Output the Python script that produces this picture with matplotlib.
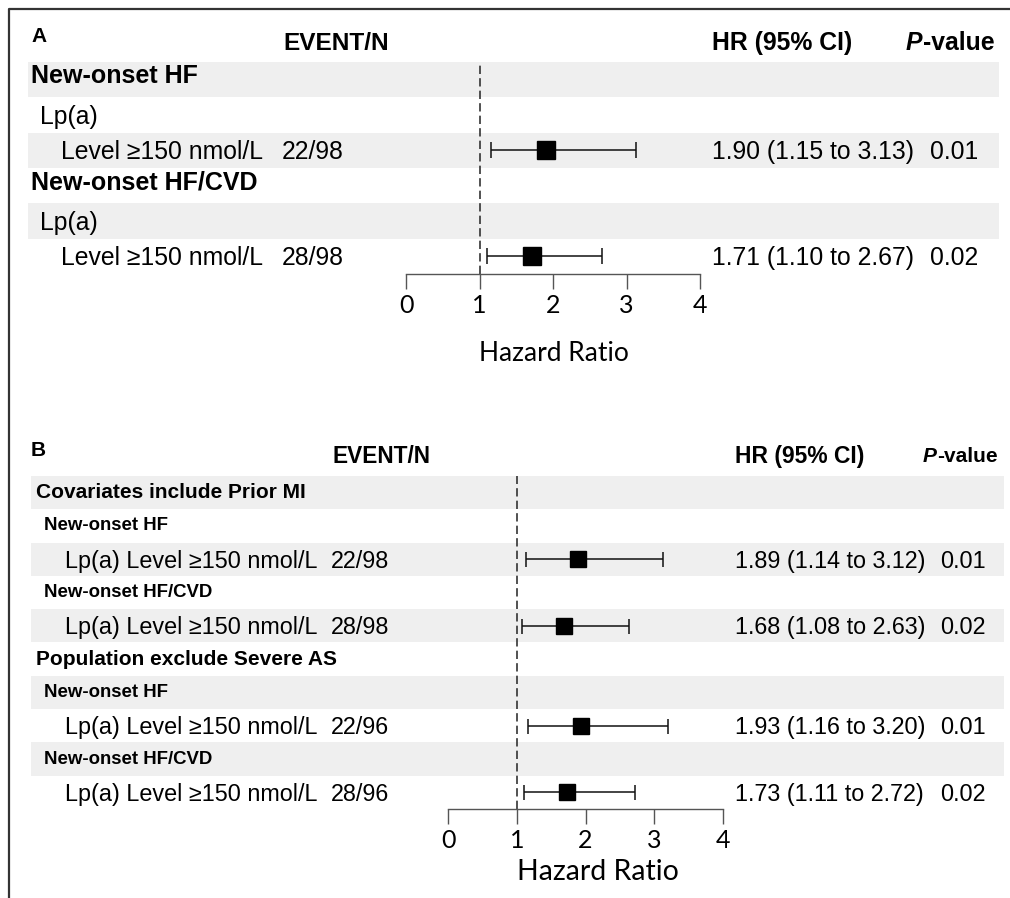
import numpy as np
import matplotlib
matplotlib.use('Agg')
import matplotlib.pyplot as plt
from matplotlib.transforms import blended_transform_factory
from matplotlib.lines import Line2D

plt.rcParams['font.family'] = ['Liberation Sans', 'DejaVu Sans']

# panel A data
a_labels = ['New-onset HF', 'Lp(a)', 'Level \u2265150 nmol/L',
            'New-onset HF/CVD', 'Lp(a)', 'Level \u2265150 nmol/L']
a_levels = [0, 1, 2, 0, 1, 2]
a_events = ['', '', '22/98', '', '', '28/98']
a_hr = np.array([np.nan, np.nan, 1.90, np.nan, np.nan, 1.71])
a_lo = np.array([np.nan, np.nan, 1.15, np.nan, np.nan, 1.10])
a_hi = np.array([np.nan, np.nan, 3.13, np.nan, np.nan, 2.67])
a_p = ['', '', '0.01', '', '', '0.02']

# panel B data
b_labels = ['Covariates include Prior MI', 'New-onset HF', 'Lp(a) Level \u2265150 nmol/L',
            'New-onset HF/CVD', 'Lp(a) Level \u2265150 nmol/L',
            'Population exclude Severe AS', 'New-onset HF', 'Lp(a) Level \u2265150 nmol/L',
            'New-onset HF/CVD', 'Lp(a) Level \u2265150 nmol/L']
b_levels = [0, 1, 2, 1, 2, 0, 1, 2, 1, 2]
b_events = ['', '', '22/98', '', '28/98', '', '', '22/96', '', '28/96']
b_hr = np.array([np.nan, np.nan, 1.89, np.nan, 1.68, np.nan, np.nan, 1.93, np.nan, 1.73])
b_lo = np.array([np.nan, np.nan, 1.14, np.nan, 1.08, np.nan, np.nan, 1.16, np.nan, 1.11])
b_hi = np.array([np.nan, np.nan, 3.12, np.nan, 2.63, np.nan, np.nan, 3.20, np.nan, 2.72])
b_p = ['', '', '0.01', '', '0.02', '', '', '0.01', '', '0.02']

ticks = [0, 1, 2, 3, 4]

W, H = 1010, 898
BAND = '#efefef'

fig = plt.figure(figsize=(W/100, H/100), dpi=100)


def box(l, t, r, b):
    return [l/W, 1-b/H, (r-l)/W, (b-t)/H]


def draw_panel(tab_box, for_box, labels, levels, events, hr, lo, hi, pvals, st):
    n = len(labels)
    ax_t = fig.add_axes(tab_box)
    ax_t.set_xlim(0, 1)
    ax_t.set_ylim(n-0.5, -0.5)
    ax_t.axis('off')
    for i in range(0, n, 2):
        ax_t.axhspan(i-0.5, i+0.5, color=BAND, lw=0)
    tr = blended_transform_factory(fig.transFigure, ax_t.transData)
    for i in range(n):
        lv = levels[i]
        y = i + st['dy'][lv]
        ax_t.text(st['x'][lv]/W, y, labels[i], transform=tr, fontsize=st['fs'][lv],
                  fontweight=st['fw'][lv], va='center')
        y = i + st['dy'][2]
        if events[i]:
            ax_t.text(st['ev_x']/W, y, events[i], transform=tr, fontsize=st['fs'][2], va='center')
        if not np.isnan(hr[i]):
            s = '%.2f (%.2f to %.2f)' % (hr[i], lo[i], hi[i])
            ax_t.text(st['hr_x']/W, y, s, transform=tr, fontsize=st['fs'][2], va='center')
            ax_t.text(st['p_x']/W, y, pvals[i], transform=tr, fontsize=st['fs'][2], va='center')

    ax_f = fig.add_axes(for_box)
    ax_f.patch.set_alpha(0)
    ax_f.set_xlim(0, 4)
    ax_f.set_ylim(n-0.5, -0.5)
    for s in ['top', 'left', 'right']:
        ax_f.spines[s].set_visible(False)
    ax_f.spines['bottom'].set_color('#555555')
    ax_f.spines['bottom'].set_linewidth(1.0)
    ax_f.set_yticks([])
    ax_f.set_xticks(ticks)
    ax_f.tick_params(axis='x', direction='out', length=10.5, width=1.0, color='#555555',
                     pad=4, labelsize=st['tick_fs'], labelfontfamily='Lato')
    ax_f.axvline(1, color='#333333', lw=1.2, ls=(0, (5, 2.5)))
    m = ~np.isnan(hr)
    rows = np.arange(n)[m]
    ax_f.errorbar(hr[m], rows, xerr=[hr[m]-lo[m], hi[m]-hr[m]], fmt='s', color='black',
                  ms=st['ms'], capsize=st['cap'], elinewidth=1.1, capthick=1.1, ecolor='#111111')
    ax_f.set_xlabel('Hazard Ratio', fontsize=st['lab_fs'], family='Lato')
    ax_f.xaxis.label.set_va('center')
    ax_f.xaxis.set_label_coords(st['lab_xy'][0], st['lab_xy'][1])
    return ax_f


def pvalue_header(x, y, fs):
    t = fig.text(x/W, 1-y/H, 'P', fontsize=fs, fontweight='bold', style='italic', va='center')
    fig.axes[0].annotate('-value', xy=(1, 0), xycoords=t, fontsize=fs,
                         fontweight='bold', va='bottom', ha='left')


# panel A
st_a = dict(x=[31, 40, 61], fs=[18, 17.8, 17.8], fw=['bold', 'normal', 'normal'],
            dy=[-0.1, 0.06, 0.06],
            ev_x=282, hr_x=712, p_x=930, tick_fs=18, ms=12.5, cap=5.8,
            lab_fs=19, lab_xy=(0.502, -0.375))
draw_panel(box(28, 62, 999, 274), box(406, 62, 700, 274),
           a_labels, a_levels, a_events, a_hr, a_lo, a_hi, a_p, st_a)
fig.text(31/W, 1-37/H, 'A', fontsize=15, fontweight='bold', va='center')
fig.text(283/W, 1-43/H, 'EVENT/N', fontsize=17.6, fontweight='bold', va='center')
fig.text(712/W, 1-43/H, 'HR (95% CI)', fontsize=17.8, fontweight='bold', va='center')
pvalue_header(906, 43, 17.8)

# panel B
st_b = dict(x=[36, 44, 65], fs=[15, 13.4, 16.8], fw=['bold', 'bold', 'normal'],
            dy=[0.0, 0.0, 0.06],
            ev_x=331, hr_x=735, p_x=940, tick_fs=18, ms=11.5, cap=5.4,
            lab_fs=20.5, lab_xy=(0.545, -0.19))
draw_panel(box(31, 476, 1004, 809), box(448, 476, 723, 809),
           b_labels, b_levels, b_events, b_hr, b_lo, b_hi, b_p, st_b)
fig.text(31/W, 1-451/H, 'B', fontsize=15, fontweight='bold', va='center')
fig.text(332/W, 1-457/H, 'EVENT/N', fontsize=16.3, fontweight='bold', va='center')
fig.text(735/W, 1-457/H, 'HR (95% CI)', fontsize=16.5, fontweight='bold', va='center')
pvalue_header(923, 457, 15)

# outer frame (cut at right and bottom)
fig.add_artist(Line2D([9/W, 9/W, 1], [0, 1-9/H, 1-9/H], transform=fig.transFigure,
                      color='#333333', lw=1.6))

fig.savefig('out.png', dpi=100)
